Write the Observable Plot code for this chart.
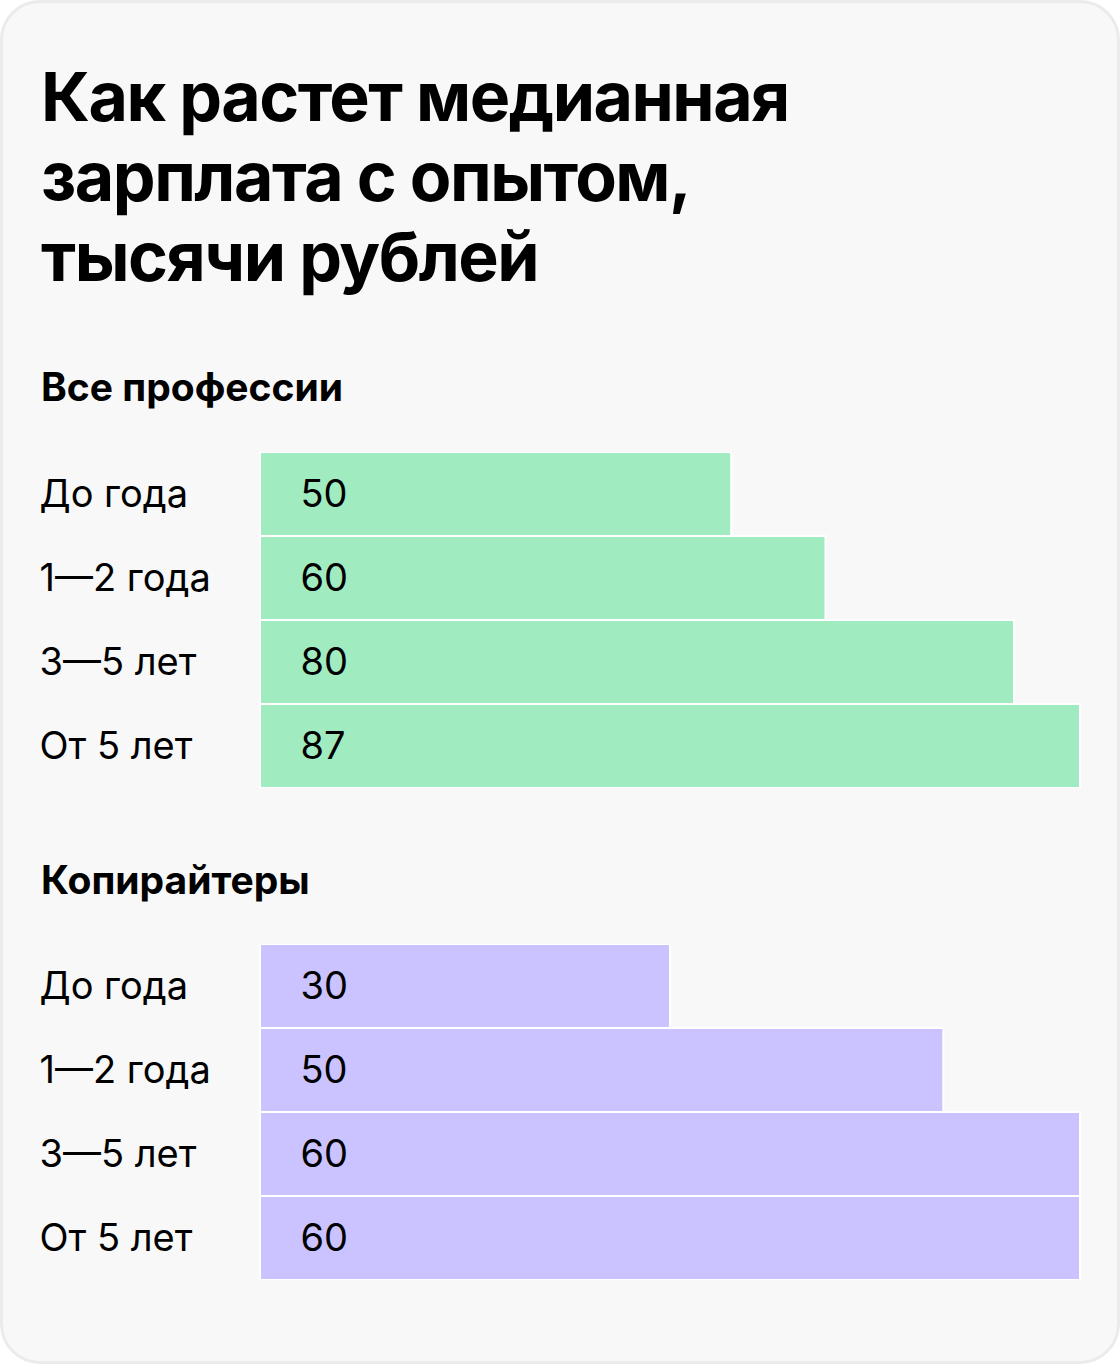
<!DOCTYPE html>
<html>
<head>
<meta charset="utf-8">
<script src="https://cdn.jsdelivr.net/npm/d3@7"></script>
<script src="https://cdn.jsdelivr.net/npm/@observablehq/plot@0.6"></script>
<style>
  html, body { margin: 0; padding: 0; background: #ffffff; }
  #card {
    position: relative; box-sizing: border-box;
    width: 1120px; height: 1364px;
    background: #f8f8f8; border: 3px solid #ebebeb; border-radius: 40px;
    font-family: Inter, "Noto Sans", sans-serif; color: #000;
    overflow: hidden;
  }
  .title { position: absolute; left: 38px; top: 53px; font-size: 68px; line-height: 80px; font-weight: 700; letter-spacing: -1.5px; margin: 0; white-space: nowrap; }
  .sub { position: absolute; left: 38px; font-size: 39px; line-height: 44px; font-weight: 700; margin: 0; white-space: nowrap; }
  .chart { position: absolute; left: -4px; width: 1120px; }
  .chart svg { max-width: none !important; display: block; }
</style>
</head>
<body>
<div id="card">
  <div class="title">Как растет медианная<br>зарплата с опытом,<br>тысячи рублей</div>
  <div class="sub" id="sub1" style="top:362px">Все профессии</div>
  <div class="chart" id="c1" style="top:449px"></div>
  <div class="sub" id="sub2" style="top:855px">Копирайтеры</div>
  <div class="chart" id="c2" style="top:941px"></div>
</div>
<script>
const categories = ["До года", "1—2 года", "3—5 лет", "От 5 лет"];
const allProfessions = [50, 60, 80, 87];
const copywriters = [30, 50, 60, 60];
const colorAll = "#a0ebbf";
const colorCopy = "#cbc3ff";

function chart(values, color) {
  const data = categories.map((c, i) => ({category: c, value: values[i]}));
  return Plot.plot({
    width: 1120, height: 4 * 84,
    marginLeft: 261, marginRight: 39, marginTop: 0, marginBottom: 0,
    style: {background: "transparent", fontFamily: "Inter, 'Noto Sans', sans-serif", fontSize: "38px", color: "#000", maxWidth: "none"},
    x: {domain: [0, d3.max(values)], axis: null},
    y: {domain: categories, padding: 0, label: null},
    marks: [
      Plot.barX(data, {x: "value", y: "category", fill: color, stroke: "#ffffff", strokeWidth: 2}),
      Plot.axisY({tickSize: 0, tickPadding: 221, textAnchor: "start", fontSize: 38, fill: "#000"}),
      Plot.text(data, {x: 0, y: "category", text: d => String(d.value), textAnchor: "start", dx: 40, fontSize: 38, fill: "#000"})
    ]
  });
}
document.getElementById("c1").appendChild(chart(allProfessions, colorAll));
document.getElementById("c2").appendChild(chart(copywriters, colorCopy));
</script>
</body>
</html>
